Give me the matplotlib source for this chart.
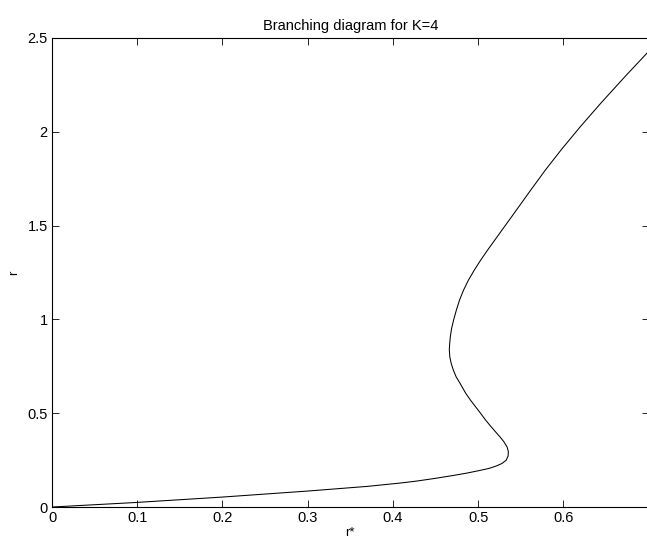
import matplotlib
matplotlib.use('Agg')
import matplotlib.pyplot as plt

# points (r* on x, r on y), ordered along the branch
r_star = [0.0, 0.0957, 0.1996, 0.2996, 0.370, 0.409, 0.429, 0.450, 0.4706, 0.487,
          0.502, 0.513, 0.5215, 0.528, 0.533, 0.5352, 0.5355, 0.534, 0.5302, 0.526,
          0.5204, 0.5145, 0.5087, 0.503, 0.4969, 0.491, 0.4855, 0.480, 0.4741, 0.4709,
          0.4684, 0.4668, 0.4662, 0.4666, 0.4674, 0.4688, 0.4712, 0.4745, 0.4782, 0.4830,
          0.4886, 0.4954, 0.5030, 0.5112, 0.5196, 0.5294, 0.5393, 0.5590, 0.5789, 0.5982,
          0.6199, 0.6439, 0.6723, 0.7000]
r_val = [0.0, 0.0235, 0.053, 0.085, 0.110, 0.128, 0.139, 0.153, 0.168, 0.181,
         0.195, 0.206, 0.219, 0.232, 0.250, 0.272, 0.295, 0.320, 0.348, 0.372,
         0.401, 0.432, 0.464, 0.499, 0.535, 0.570, 0.606, 0.650, 0.695, 0.730,
         0.766, 0.800, 0.837, 0.870, 0.908, 0.950, 0.996, 1.050, 1.103, 1.157,
         1.209, 1.262, 1.316, 1.370, 1.423, 1.485, 1.547, 1.672, 1.796, 1.908,
         2.027, 2.152, 2.294, 2.428]

plt.rcParams['font.family'] = ['Liberation Sans', 'DejaVu Sans']
plt.rcParams['font.size'] = 10

fig = plt.figure(figsize=(6.47, 5.41), dpi=100)
ax = fig.add_axes([0.0804, 0.0628, 0.922, 0.867])

ax.plot(r_star, r_val, color='black', linewidth=0.75)

ax.set_xlim(0, 0.7)
ax.set_ylim(0, 2.5)
ax.set_xticks([0, 0.1, 0.2, 0.3, 0.4, 0.5, 0.6])
ax.set_xticklabels(['0', '0.1', '0.2', '0.3', '0.4', '0.5', '0.6'])
ax.set_yticks([0, 0.5, 1, 1.5, 2, 2.5])
ax.set_yticklabels(['0', '0.5', '1', '1.5', '2', '2.5'])
ax.tick_params(direction='in', length=5, width=0.6, top=True, right=True, pad=3, labelsize=10.5)
for s in ax.spines.values():
    s.set_linewidth(0.8)

ax.set_title('Branching diagram for K=4', fontsize=10.5, pad=6)
ax.set_xlabel('r*', fontsize=9.5, labelpad=1)
ax.set_ylabel('r', fontsize=9.5, labelpad=5)

fig.savefig('out.png', dpi=100)
